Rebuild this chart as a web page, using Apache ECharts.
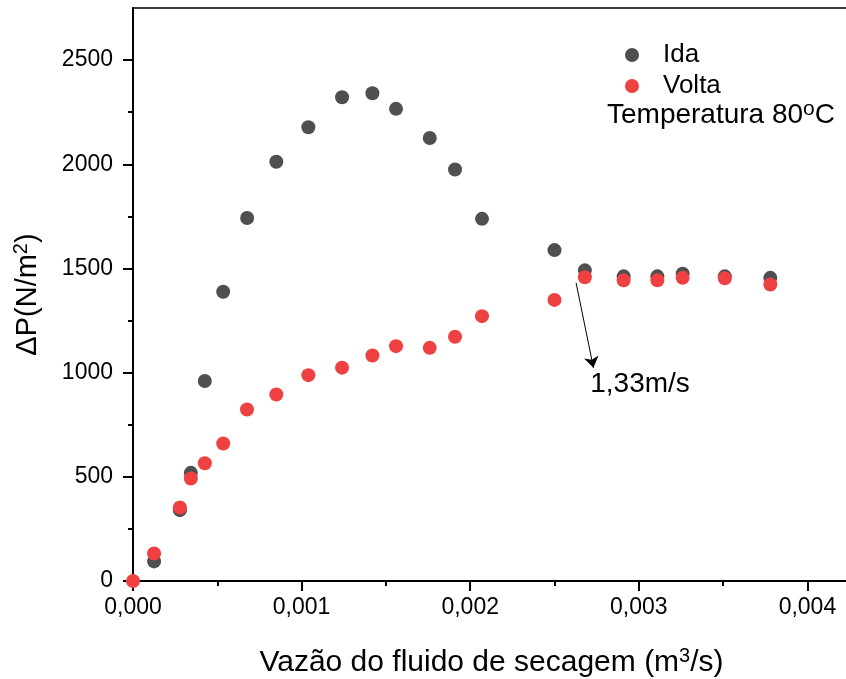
<!DOCTYPE html>
<html><head><meta charset="utf-8">
<script src="https://cdn.jsdelivr.net/npm/echarts@6/dist/echarts.min.js"></script>
<style>html,body{margin:0;padding:0;background:#fff}#c{width:846px;height:679px}</style>
</head><body><div id="c"></div>
<script>
// Data
const idaX = [0.000125, 0.000278, 0.000343, 0.000426, 0.000535, 0.000677, 0.00085, 0.00104, 0.00124, 0.00142, 0.00156, 0.00176, 0.00191, 0.00207, 0.00250, 0.00268, 0.00291, 0.00311, 0.00326, 0.00351, 0.00378];
const idaY = [94, 340, 519, 960, 1388, 1742, 2012, 2178, 2322, 2341, 2266, 2126, 1975, 1738, 1588, 1491, 1462, 1462, 1475, 1462, 1455];
const voltaX = [0, 0.000125, 0.000278, 0.000343, 0.000426, 0.000535, 0.000676, 0.00085, 0.00104, 0.00124, 0.00142, 0.00156, 0.00176, 0.00191, 0.00207, 0.00250, 0.00268, 0.00291, 0.00311, 0.00326, 0.00351, 0.00378];
const voltaY = [0, 132, 353, 492, 565, 660, 823, 895, 988, 1024, 1082, 1127, 1119, 1172, 1271, 1349, 1458, 1443, 1443, 1455, 1453, 1423];
const xMajor = [0, 0.001, 0.002, 0.003, 0.004];
const xMinor = [0.0005, 0.0015, 0.0025, 0.0035];
const yMajor = [0, 500, 1000, 1500, 2000, 2500];
const yMinor = [250, 750, 1250, 1750, 2250];
const arrowStart = [0.002628, 1431];
const arrowEnd = [0.002731, 1023];
const noteAt = [0.002712, 943];
const noteText = '1,33m/s';
const seriesNames = ['Ida', 'Volta'];

const FONT = 'Liberation Sans, Arial, sans-serif';
const zip = (xs, ys) => xs.map((x, i) => [x, ys[i]]);
const supRich = (base, size) => ({
  n: { fontSize: base, lineHeight: base + 2, fontFamily: FONT, color: '#000', verticalAlign: 'bottom' },
  sup: { fontSize: size, lineHeight: size, fontFamily: FONT, color: '#000', verticalAlign: 'top' }
});

const chart = echarts.init(document.getElementById('c'), null, { renderer: 'canvas' });
const baseX = { type: 'value', min: 0, max: 0.0043, gridIndex: 0 };
const baseY = { type: 'value', min: 0, max: 2750, gridIndex: 0 };
chart.setOption({
  animation: false,
  backgroundColor: '#fff',
  grid: { left: 133, top: 8, width: 725, height: 573, containLabel: false, outerBoundsMode: 'none' },
  title: {
    text: '{n|Temperatura 80}{sup|o}{n|C}', left: 607, top: 99, padding: 0,
    textStyle: { fontFamily: FONT, fontSize: 28, fontWeight: 'normal', color: '#000', rich: supRich(28, 21) }
  },
  legend: {
    orient: 'vertical', left: 620, top: 37, itemWidth: 14, itemHeight: 14, itemGap: 5,
    icon: 'circle', data: seriesNames,
    textStyle: { fontFamily: FONT, fontSize: 26, color: '#000', lineHeight: 26, padding: [0, 0, 0, 19] }
  },
  xAxis: [
    Object.assign({}, baseX, {
      position: 'bottom',
      name: '{n|Vazão do fluido de secagem (m}{sup|3}{n|/s)}', nameLocation: 'middle', nameGap: 65,
      nameTextStyle: { fontFamily: FONT, fontSize: 30, color: '#000', padding: [0, 8, 0, 0], rich: supRich(30, 20) },
      axisLine: { show: true, onZero: false, lineStyle: { color: '#000', width: 2 } },
      axisTick: { show: true, inside: false, length: 10, customValues: xMajor, lineStyle: { color: '#000', width: 2 } },
      axisLabel: { show: true, customValues: xMajor, margin: 15, fontFamily: FONT, fontSize: 23, color: '#000',
        formatter: v => v.toFixed(3).replace('.', ',') },
      splitLine: { show: false }
    }),
    Object.assign({}, baseX, {
      position: 'bottom',
      axisLine: { show: false },
      axisTick: { show: true, length: 5, customValues: xMinor, lineStyle: { color: '#000', width: 2 } },
      axisLabel: { show: false }, splitLine: { show: false }
    }),
    Object.assign({}, baseX, {
      position: 'top',
      axisLine: { show: true, onZero: false, lineStyle: { color: '#000', width: 1.6 } },
      axisTick: { show: false }, axisLabel: { show: false }, splitLine: { show: false }
    })
  ],
  yAxis: [
    Object.assign({}, baseY, {
      position: 'left',
      name: '{n|ΔP(N/m}{sup|2}{n|)}', nameLocation: 'middle', nameGap: 91, nameRotate: 90,
      nameTextStyle: { fontFamily: FONT, fontSize: 29, color: '#000', rich: supRich(29, 20) },
      axisLine: { show: true, onZero: false, lineStyle: { color: '#000', width: 2 } },
      axisTick: { show: true, length: 10, customValues: yMajor, lineStyle: { color: '#000', width: 2 } },
      axisLabel: { show: true, customValues: yMajor, margin: 20, fontFamily: FONT, fontSize: 23, color: '#000',
        formatter: v => String(Math.round(v)) },
      splitLine: { show: false }
    }),
    Object.assign({}, baseY, {
      position: 'left',
      axisLine: { show: false },
      axisTick: { show: true, length: 5, customValues: yMinor, lineStyle: { color: '#000', width: 2 } },
      axisLabel: { show: false }, splitLine: { show: false }
    })
  ],
  series: [
    {
      name: seriesNames[0], type: 'scatter', xAxisIndex: 0, yAxisIndex: 0,
      symbol: 'circle', symbolSize: 14, itemStyle: { color: '#4f4f4f', opacity: 1 },
      data: zip(idaX, idaY), z: 2
    },
    {
      name: seriesNames[1], type: 'scatter', xAxisIndex: 0, yAxisIndex: 0,
      symbol: 'circle', symbolSize: 14, itemStyle: { color: '#ef4141', opacity: 1 },
      data: zip(voltaX, voltaY), z: 3,
      markLine: {
        silent: true, symbol: ['none', 'arrow'], symbolSize: 11, precision: 6,
        lineStyle: { color: '#000', width: 1, type: 'solid' },
        label: { show: false }, emphasis: { disabled: true },
        data: [[{ coord: arrowStart }, { coord: arrowEnd }]]
      },
      markPoint: {
        silent: true, symbol: 'circle', symbolSize: 0,
        label: { show: true, position: 'right', distance: 0, formatter: noteText,
          fontFamily: FONT, fontSize: 28, color: '#000' },
        data: [{ coord: noteAt }]
      }
    }
  ]
});
</script>
</body></html>
